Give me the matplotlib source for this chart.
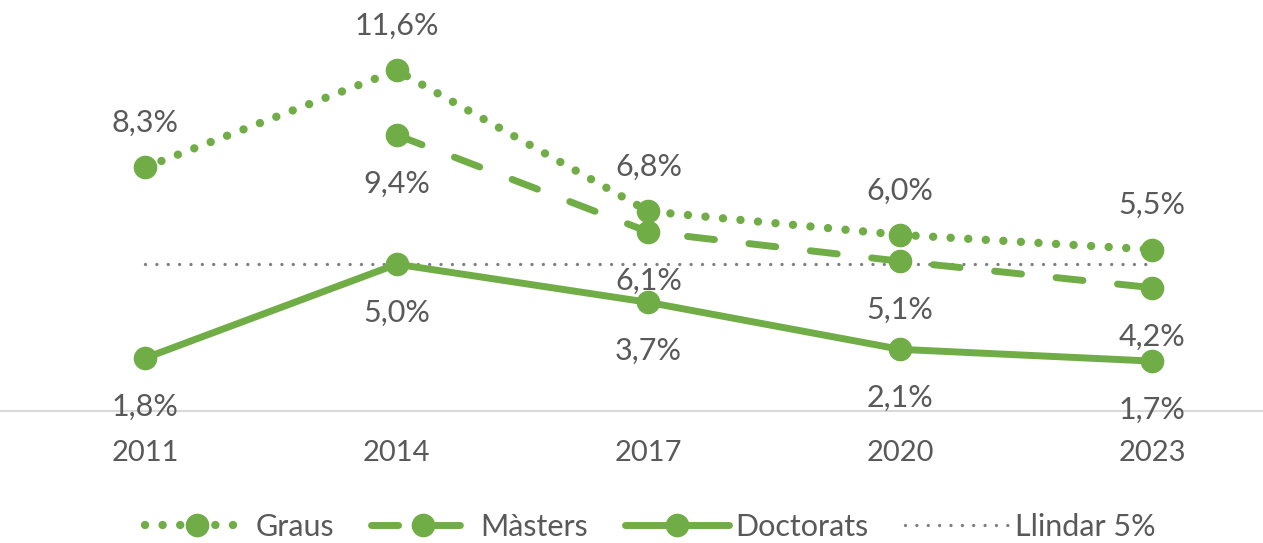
import matplotlib.pyplot as plt
import numpy as np

plt.rcParams['font.family'] = ['Lato', 'DejaVu Sans']

years = ['2011', '2014', '2017', '2020', '2023']
graus = [8.3, 11.6, 6.8, 6.0, 5.5]
masters = [np.nan, 9.4, 6.1, 5.1, 4.2]
doctorats = [1.8, 5.0, 3.7, 2.1, 1.7]
llindar = [5, 5, 5, 5, 5]

green = '#70AD47'
txt = '#595959'
x = np.arange(len(years))

fig = plt.figure(figsize=(12.63, 5.43), dpi=100)
ax = fig.add_axes([0, 0.2431, 1, 0.757])

ms = 16
ax.plot(x, llindar, color='#808080', lw=2.4, linestyle=(0, (0.01, 3.4)),
        dash_capstyle='round', label='Llindar 5%', zorder=1)
ax.plot(x, graus, color=green, lw=6, linestyle=(0, (0.01, 2.1)),
        dash_capstyle='round', marker='o', ms=ms, label='Graus', zorder=3)
ax.plot(x, masters, color=green, lw=5, linestyle=(0, (3.9, 5.0)),
        dash_capstyle='round', marker='o', ms=ms, label='Màsters', zorder=3)
ax.plot(x, doctorats, color=green, lw=5, solid_capstyle='round',
        marker='o', ms=ms, label='Doctorats', zorder=3)

def fmt(v):
    return f'{v:.1f}%'.replace('.', ',')

for xi, v in zip(x, graus):
    ax.annotate(fmt(v), (xi, v), xytext=(0, 32), textcoords='offset points',
                ha='center', va='center', fontsize=22, color=txt)
for xi, v in zip(x, masters):
    if not np.isnan(v):
        ax.annotate(fmt(v), (xi, v), xytext=(0, -35), textcoords='offset points',
                    ha='center', va='center', fontsize=22, color=txt)
for xi, v in zip(x, doctorats):
    ax.annotate(fmt(v), (xi, v), xytext=(0, -35), textcoords='offset points',
                ha='center', va='center', fontsize=22, color=txt)

ax.set_xlim(-0.576, 4.441)
ax.set_ylim(0, 14)
ax.set_xticks(x)
ax.set_xticklabels(years, fontsize=21, color=txt)
ax.tick_params(axis='x', length=0, pad=21)
ax.set_yticks([])
for s in ['top', 'right', 'left']:
    ax.spines[s].set_visible(False)
ax.spines['bottom'].set_color('#D9D9D9')
ax.spines['bottom'].set_linewidth(1.5)

handles, labels = ax.get_legend_handles_labels()
order = [1, 2, 3, 0]
leg = fig.legend([handles[i] for i in order], [labels[i] for i in order],
                 loc='center', bbox_to_anchor=(0.515, 0.03), ncol=4,
                 frameon=False, fontsize=22, handlelength=3.4,
                 handletextpad=0.2, columnspacing=1.2, labelcolor=txt)

fig.savefig('out.png', dpi=100)
